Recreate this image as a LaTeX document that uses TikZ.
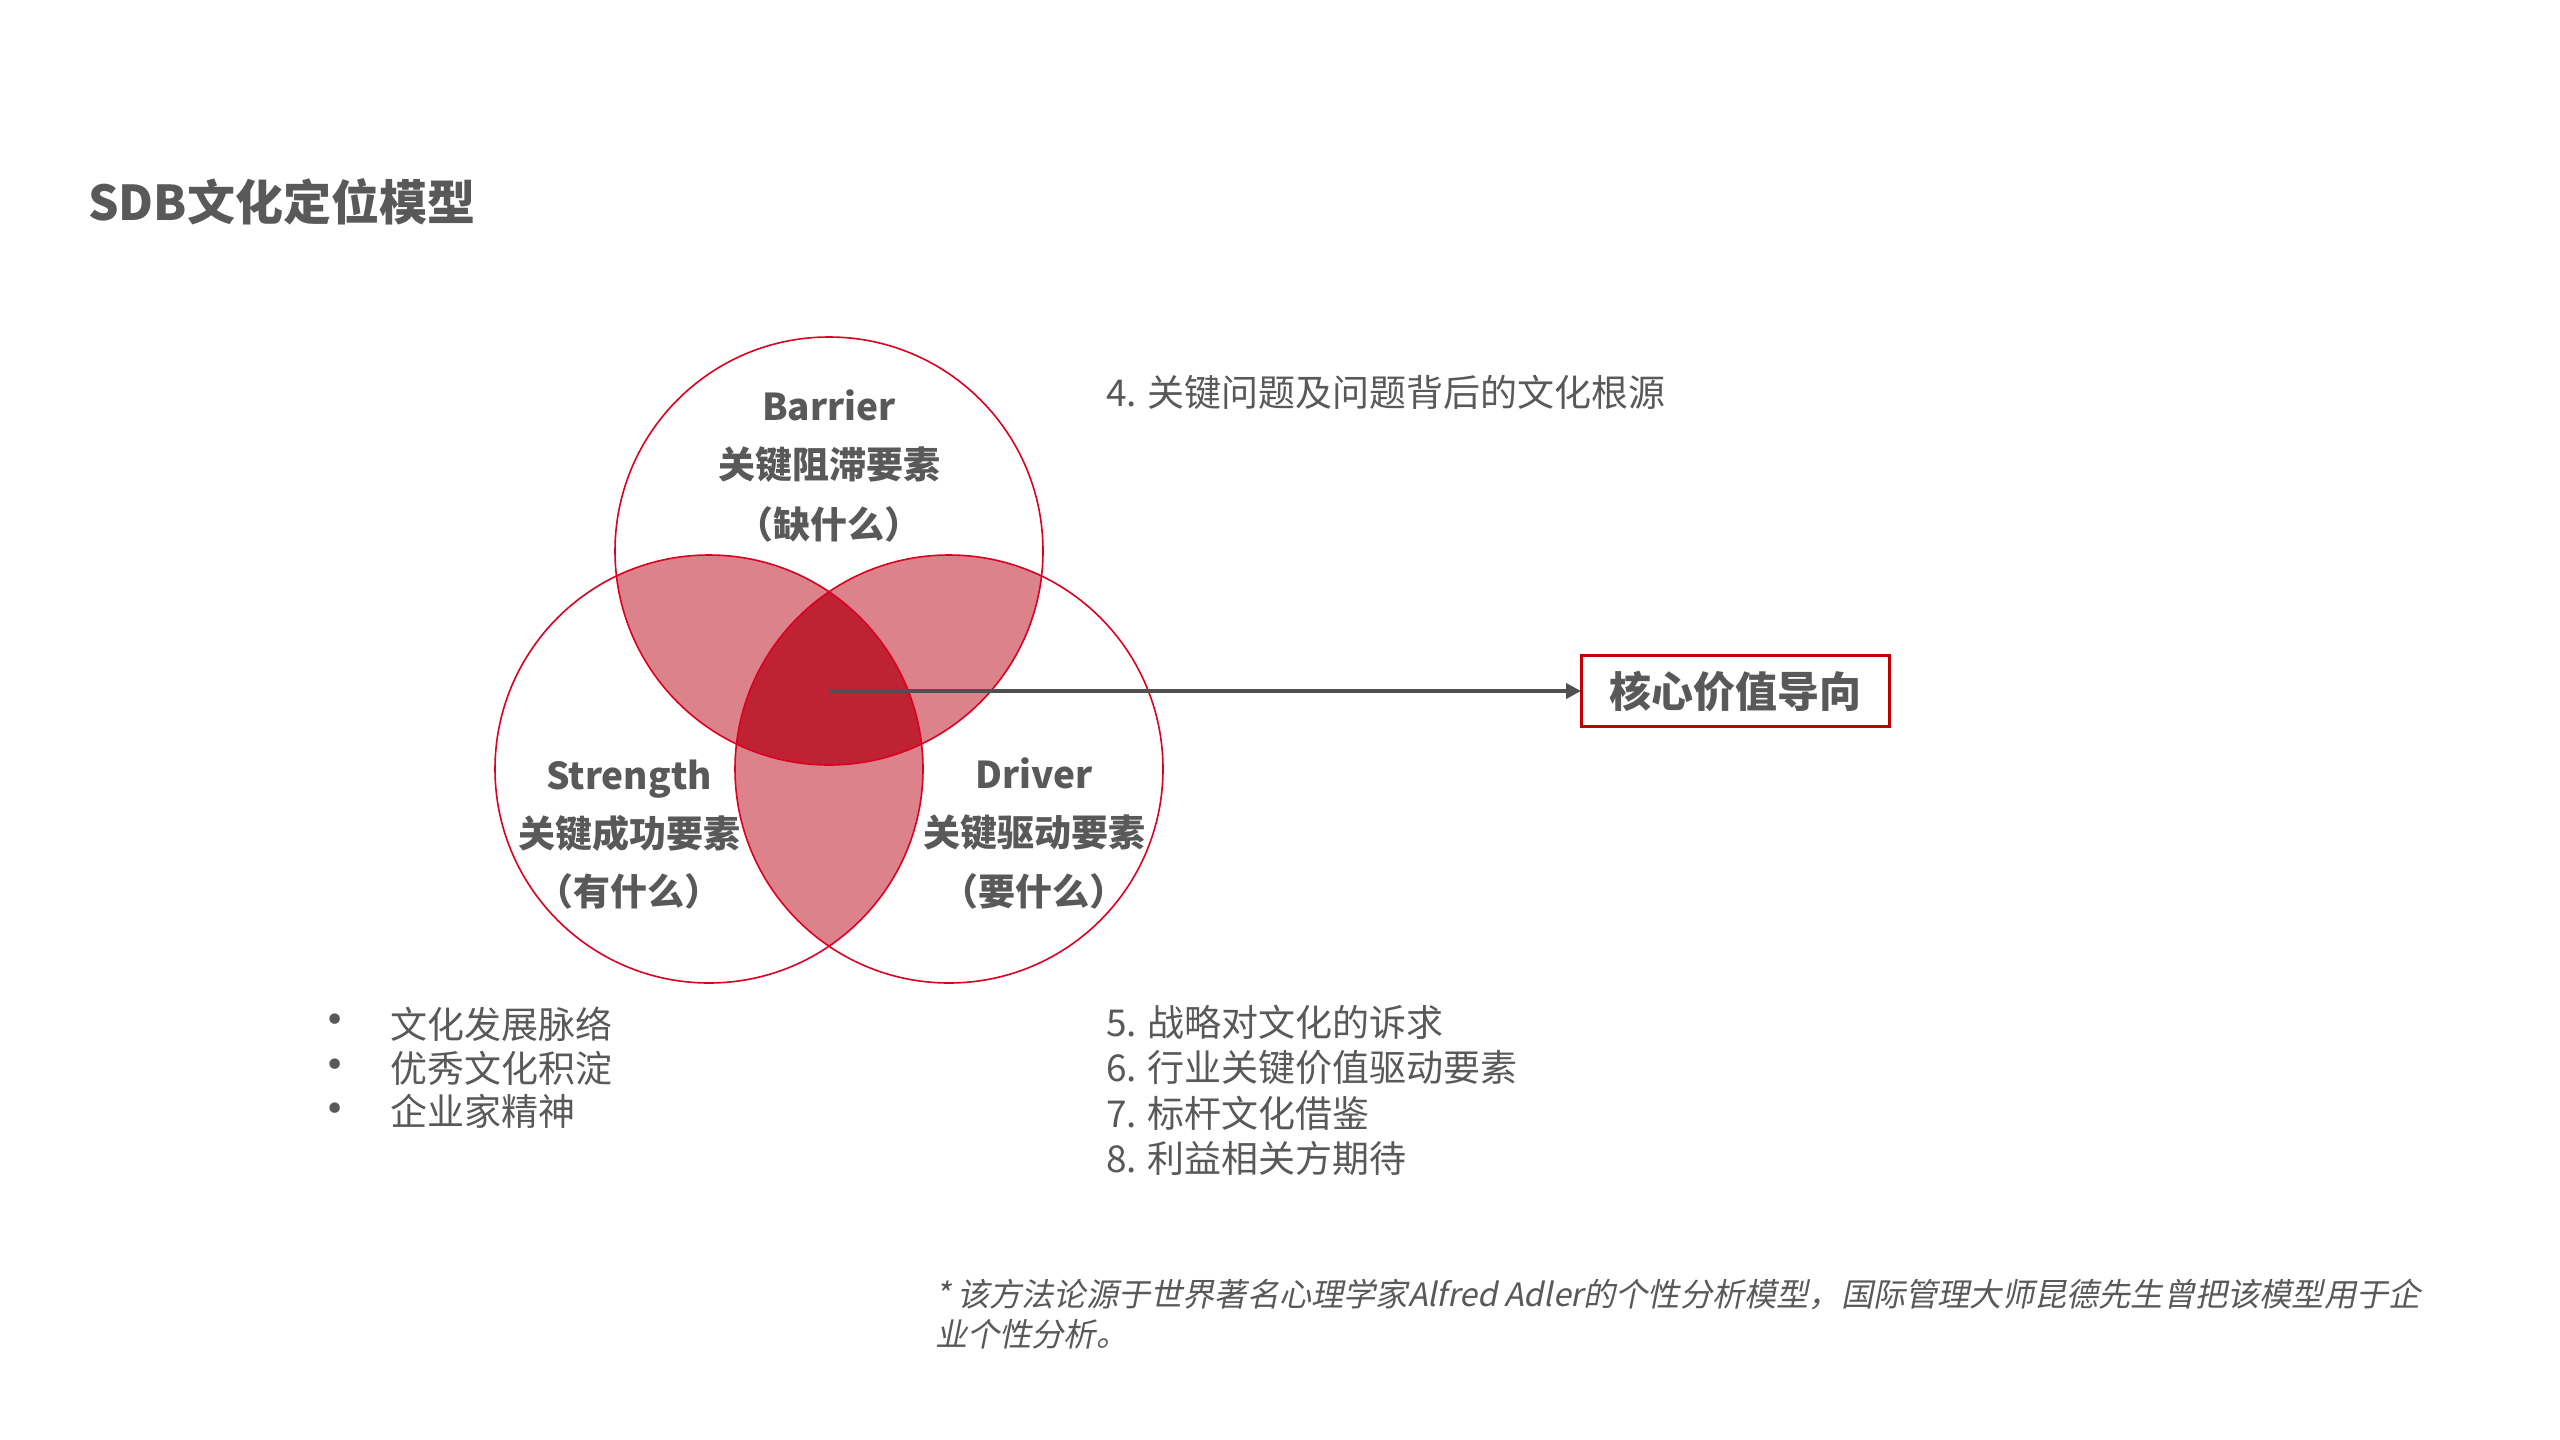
\documentclass[tikz,border=0pt]{standalone}
\usepackage{fontspec}
\setmainfont{Noto Sans CJK SC}
\newfontfamily\fnfont[FakeSlant=0.2]{Noto Sans CJK SC}
\newfontfamily\symfont{DejaVu Sans}
\usetikzlibrary{arrows.meta}
\definecolor{txt}{HTML}{595959}
\definecolor{ring}{HTML}{DC0021}
\definecolor{pinkfill}{HTML}{DB828A}
\definecolor{corefill}{HTML}{BE2233}
\definecolor{boxred}{HTML}{C00000}
\definecolor{arrowgray}{HTML}{505050}
\begin{document}
\begin{tikzpicture}[x=0.5pt,y=-0.5pt,
  every node/.style={inner sep=0pt, outer sep=0pt, text=txt},
  titletext/.style={anchor=west, font=\bfseries\fontsize{24}{28}\selectfont},
  lbl/.style={font=\bfseries\fontsize{18.5}{22}\selectfont},
  lblbase/.style={anchor=base, font=\bfseries\fontsize{18.5}{22}\selectfont},
  body/.style={anchor=west, font=\fontsize{18.5}{22}\selectfont},
  dot/.style={font=\symfont\fontsize{18}{20}\selectfont},
  foot/.style={anchor=base west, font=\fnfont\fontsize{16.1}{20}\selectfont},
  corebox/.style={draw=boxred, line width=1.5pt, minimum width=154pt, minimum height=35.5pt, font=\bfseries\fontsize{21}{24}\selectfont},
  ringline/.style={draw=ring, line width=0.8pt},
  link/.style={draw=arrowgray, line width=2pt, -{Triangle[length=7.5pt,width=7.5pt]}}
]
\useasboundingbox[fill=white] (0,0) rectangle (2560,1440);

% title
\node[titletext] (title) at (88,202) {SDB文化定位模型};

% circle centres
\coordinate (T) at (829,551);
\coordinate (L) at (709,769);
\coordinate (R) at (949,769);

% pairwise overlaps
\begin{scope}
  \clip (T) circle[radius=107pt];
  \fill[pinkfill] (L) circle[radius=107pt];
  \fill[pinkfill] (R) circle[radius=107pt];
\end{scope}
\begin{scope}
  \clip (L) circle[radius=107pt];
  \fill[pinkfill] (R) circle[radius=107pt];
\end{scope}
% triple overlap
\begin{scope}
  \clip (T) circle[radius=107pt];
  \clip (L) circle[radius=107pt];
  \fill[corefill] (R) circle[radius=107pt];
\end{scope}
% outlines
\draw[ringline] (T) circle[radius=107pt];
\draw[ringline] (L) circle[radius=107pt];
\draw[ringline] (R) circle[radius=107pt];

% circle labels
\node[lblbase] (b1) at (829,420) {Barrier};
\node[lbl] (b2) at (829,465) {关键阻滞要素};
\node[lbl] (b3) at (829,524) {（缺什么）};

\node[lblbase] (s1) at (629,789) {Strength};
\node[lbl] (s2) at (629,833) {关键成功要素};
\node[lbl] (s3) at (629,891) {（有什么）};

\node[lblbase] (d1) at (1034,788) {Driver};
\node[lbl] (d2) at (1034,833) {关键驱动要素};
\node[lbl] (d3) at (1034,891) {（要什么）};

% arrow and box
\coordinate (o) at (829,691);
\node[corebox] (box) at (1735,691) {核心价值导向};
\draw[link] (o) -- (box);

% right-hand texts
\node[body] (n4) at (1106,392) {4. 关键问题及问题背后的文化根源};
\node[body] (n5) at (1106,1022) {5. 战略对文化的诉求};
\node[body] (n6) at (1106,1067.5) {6. 行业关键价值驱动要素};
\node[body] (n7) at (1106,1113) {7. 标杆文化借鉴};
\node[body] (n8) at (1106,1158) {8. 利益相关方期待};

% bullet list
\node[dot] (p1) at (335,1023) {•};
\node[dot] (p2) at (335,1068) {•};
\node[dot] (p3) at (335,1112) {•};
\node[body] (l1) at (390,1024) {文化发展脉络};
\node[body] (l2) at (390,1068) {优秀文化积淀};
\node[body] (l3) at (390,1111) {企业家精神};

% footnote
\node[foot] (f1) at (935,1306) {* 该方法论源于世界著名心理学家Alfred Adler的个性分析模型，国际管理大师昆德先生曾把该模型用于企};
\node[foot] (f2) at (935,1346) {业个性分析。};
\end{tikzpicture}
\end{document}
